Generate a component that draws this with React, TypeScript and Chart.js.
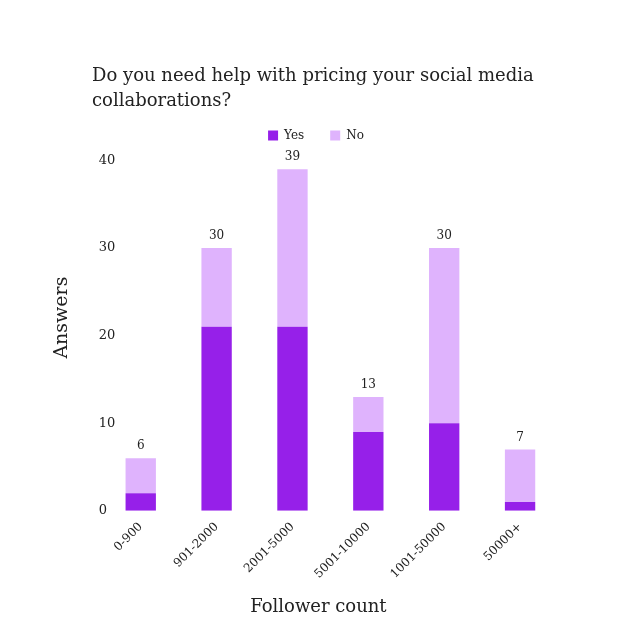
import React, { useEffect, useRef } from "react";
import { Chart, registerables } from "chart.js";

Chart.register(...registerables);

const categories = ["0-900", "901-2000", "2001-5000", "5001-10000", "1001-50000", "50000+"];
const yesValues = [2, 21, 21, 9, 10, 1];
const noValues = [4, 9, 18, 4, 20, 6];
const titleLines = ["Do you need help with pricing your social media", "collaborations?"];
const yTicks = [0, 10, 20, 30, 40];

const FONT = "'DejaVu Serif', serif";
const TEXT = "#222222";

const totalsPlugin = {
  id: "totals",
  afterDatasetsDraw(chart: any) {
    const ctx = chart.ctx;
    const meta = chart.getDatasetMeta(1);
    ctx.save();
    ctx.font = `12px ${FONT}`;
    ctx.fillStyle = TEXT;
    ctx.textAlign = "center";
    ctx.textBaseline = "bottom";
    meta.data.forEach((bar: any, i: number) => {
      const total = yesValues[i] + noValues[i];
      ctx.fillText(String(total), bar.x, bar.y - 6);
    });
    ctx.restore();
  },
};

function shiftTitle(scale: any, dx: number, dy: number) {
  if (!scale || scale._titleShifted) return;
  const orig = scale.drawTitle.bind(scale);
  scale.drawTitle = function () {
    const c = this.ctx;
    c.save();
    c.translate(dx, dy);
    orig();
    c.restore();
  };
  scale._titleShifted = true;
}

const layoutTweaks = {
  id: "layoutTweaks",
  beforeUpdate(chart: any) {
    const lg = chart.legend;
    if (lg && !lg._patched) {
      const orig = lg.fit.bind(lg);
      lg.fit = function () {
        orig();
        this.height += 9;
      };
      lg._patched = true;
    }
  },
  afterLayout(chart: any) {
    const t = chart.titleBlock;
    if (t) {
      t.left += 44;
    }
    const lg = chart.legend;
    if (lg) {
      lg.left += 13;
      lg.right += 13;
    }
    shiftTitle(chart.scales.x, -12, 0);
    shiftTitle(chart.scales.y, 0, -18);
  },
};

export default function App() {
  const ref = useRef<HTMLCanvasElement | null>(null);
  useEffect(() => {
    if (!ref.current) return;
    const chart = new Chart(ref.current, {
      type: "bar",
      data: {
        labels: categories,
        datasets: [
          { label: "Yes", data: yesValues, backgroundColor: "#9620E9", borderWidth: 0 },
          { label: "No", data: noValues, backgroundColor: "#DFB3FD", borderWidth: 0 },
        ],
      },
      options: {
        animation: false,
        responsive: true,
        maintainAspectRatio: false,
        layout: { padding: { left: 40, right: 66, top: 0, bottom: 2 } },
        datasets: { bar: { categoryPercentage: 0.8, barPercentage: 0.5 } } as any,
        plugins: {
          title: {
            display: true,
            text: titleLines,
            align: "start",
            color: TEXT,
            font: { family: FONT, size: 18, weight: "normal" as any, lineHeight: 1.4 },
            padding: { top: 56, bottom: -11 },
          },
          legend: {
            display: true,
            position: "top",
            labels: {
              color: TEXT,
              font: { family: FONT, size: 12 },
              boxWidth: 10,
              boxHeight: 10,
              padding: 26,
            },
          },
          tooltip: { enabled: false },
        },
        scales: {
          x: {
            stacked: true,
            grid: { display: false, drawTicks: false },
            border: { display: false },
            ticks: {
              color: TEXT,
              font: { family: FONT, size: 12 },
              maxRotation: 45,
              minRotation: 45,
              padding: 9,
            },
            title: {
              display: true,
              text: "Follower count",
              color: TEXT,
              font: { family: FONT, size: 18 },
              padding: { top: 6, bottom: 4 },
            },
          },
          y: {
            stacked: true,
            min: 0,
            max: 40,
            grid: { display: false, drawTicks: false },
            border: { display: false },
            afterBuildTicks(scale: any) {
              scale.ticks = yTicks.map((v) => ({ value: v }));
            },
            ticks: {
              color: TEXT,
              font: { family: FONT, size: 13 },
              mirror: true,
              padding: -4,
            },
            title: {
              display: true,
              text: "Answers",
              color: TEXT,
              font: { family: FONT, size: 19 },
              padding: { top: 3, bottom: 37 },
            },
          },
        },
      },
      plugins: [totalsPlugin, layoutTweaks],
    });
    return () => chart.destroy();
  }, []);
  return (
    <div style={{ width: 616, height: 616 }}>
      <canvas ref={ref} />
    </div>
  );
}
